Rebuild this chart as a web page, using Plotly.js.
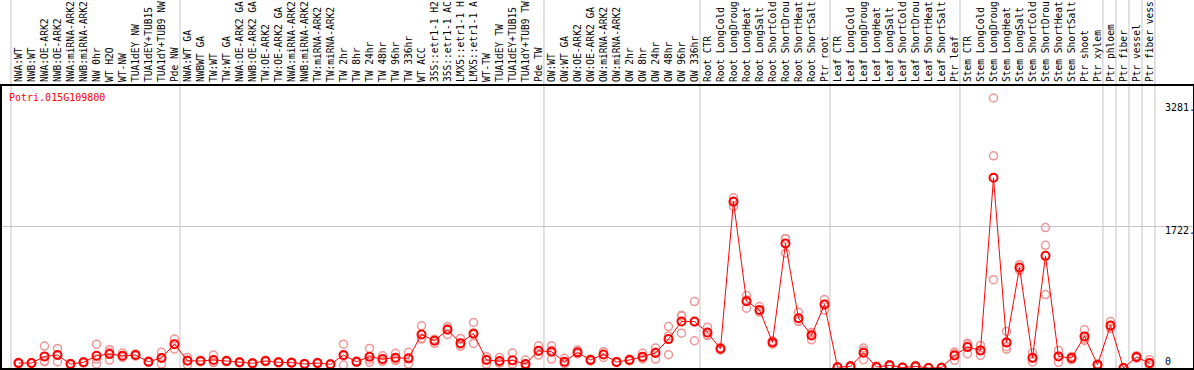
<!DOCTYPE html>
<html>
<head>
<meta charset="utf-8">
<script src="https://cdn.plot.ly/plotly-3.0.1.min.js"></script>
<style>html,body{margin:0;padding:0;background:#fff;}#chart{width:1194px;height:370px;}</style>
</head>
<body>
<div id="chart"></div>
<script>
const geneId = "Potri.015G109800";

const labels = [
"NWA:WT","NWB:WT","NWA:OE-ARK2","NWB:OE-ARK2","NWA:miRNA-ARK2","NWB:miRNA-ARK2","NW 0hr","WT H2O","WT-NW","TUA1dEY NW","TUA1dEY+TUB15","TUA1dY+TUB9 NW","Pde NW",
"NWA:WT GA","NWBWT GA","TW:WT","TW:WT GA","NWA:OE-ARK2 GA","NWB:OE-ARK2 GA","TW:OE-ARK2","TW:OE-ARK2 GA","NWA:miRNA-ARK2","NWB:miRNA-ARK2","TW:miRNA-ARK2","TW:miRNA-ARK2","TW 2hr","TW 8hr","TW 24hr","TW 48hr","TW 96hr","TW 336hr","WT ACC","35S::etr1-1 H2","35S::etr1-1 AC","LMX5::etr1-1 H","LMX5::etr1-1 A","WT-TW","TUA1dEY TW","TUA1dEY+TUB15","TUA1dY+TUB9 TW","Pde TW",
"OW:WT","OW:WT GA","OW:OE-ARK2","OW:OE-ARK2 GA","OW:miRNA-ARK2","OW:miRNA-ARK2","OW 2hr","OW 8hr","OW 24hr","OW 48hr","OW 96hr","OW 336hr",
"Root CTR","Root LongCold","Root LongDroug","Root LongHeat","Root LongSalt","Root ShortCold","Root ShortDrou","Root ShortHeat","Root ShortSalt","Ptr root",
"Leaf CTR","Leaf LongCold","Leaf LongDroug","Leaf LongHeat","Leaf LongSalt","Leaf ShortCold","Leaf ShortDrou","Leaf ShortHeat","Leaf ShortSalt","Ptr leaf",
"Stem CTR","Stem LongCold","Stem LongDroug","Stem LongHeat","Stem LongSalt","Stem ShortCold","Stem ShortDrou","Stem ShortHeat","Stem ShortSalt","Ptr shoot","Ptr xylem",
"Ptr phloem","Ptr fiber","Ptr vessel","Ptr fiber vess"
];

// mean expression per sample
const meanValues = [
60,60,141,157,48,69,149,169,149,157,76,121,290,
88,85,97,85,69,57,85,69,65,50,60,45,157,76,137,109,125,117,408,331,464,302,419,97,85,93,48,210,
198,76,190,97,165,73,97,137,182,351,565,565,
430,234,2021,811,706,311,1512,605,396,771,
10,20,185,12,32,5,20,0,4,153,
254,214,2311,311,1222,125,1363,141,121,384,40,
516,0,133,60
];

// replicate values (three per sample)
const rep1 = [
70,65,266,238,55,75,290,222,182,170,85,190,351,
129,95,157,95,75,62,95,75,72,55,68,50,290,85,238,149,178,190,512,350,504,359,553,137,129,182,97,270,
270,117,218,110,198,80,110,178,242,504,641,807,
496,250,2069,880,747,330,1573,678,430,831,
15,25,242,25,40,10,30,5,10,194,
302,274,3281,444,1255,185,1706,214,140,464,50,
565,5,150,101
];
const rep2 = [
50,55,76,76,42,60,109,97,130,145,68,48,230,
40,75,70,75,60,50,75,60,58,45,52,40,36,68,69,80,90,48,351,300,408,262,299,48,60,50,30,157,
109,55,170,85,129,65,85,110,109,161,423,331,
400,220,1964,726,680,290,1395,570,342,706,
5,10,101,5,20,0,10,0,0,93,
173,153,1073,230,1190,73,892,69,100,335,30,
480,0,120,40
];
const rep3 = [
60,60,85,157,47,72,50,190,135,156,75,125,290,
95,85,64,85,72,59,85,72,65,50,60,45,145,75,104,98,107,113,361,343,480,285,405,106,66,47,17,203,
215,56,182,96,168,74,96,123,195,388,631,557,
394,232,2030,827,691,313,1568,567,416,776,
10,25,212,6,36,5,20,0,2,172,
287,215,2579,259,1221,117,1491,140,123,353,40,
503,0,129,39
];

const groupStarts = [0,13,41,53,63,73,84,85,86,87,88];
const yTicks = [0,1722,3281];
const yTickText = ["0","1722.","3281."];

const idx = labels.map((_, i) => i);
const mono = "DejaVu Sans Mono, monospace";

const repX = [], repY = [];
[rep1, rep2, rep3].forEach(r => r.forEach((v, i) => { repX.push(i); repY.push(v); }));

const traces = [
  {
    x: repX, y: repY, type: "scatter", mode: "markers",
    marker: {symbol: "circle-open", size: 8, color: "rgb(238,150,150)", line: {width: 1.5, color: "rgb(238,150,150)"}},
    hoverinfo: "skip", showlegend: false
  },
  {
    x: idx, y: meanValues, type: "scatter", mode: "lines+markers",
    line: {color: "#ff0000", width: 1},
    marker: {symbol: "circle-open", size: 8, color: "#ff0000", line: {width: 2, color: "#ff0000"}},
    showlegend: false
  }
];

const shapes = groupStarts.map(b => ({
  type: "line", xref: "x", yref: "paper",
  x0: b - 0.58, x1: b - 0.58, y0: 0, y1: 1.31,
  line: {color: "#c4c4c4", width: 1}, layer: "below"
}));

const yShift = [7, -4, -9];
const annotations = yTicks.map((v, k) => ({
  xref: "paper", yref: "y", x: 0.9748, y: v, yshift: yShift[k],
  xanchor: "left", yanchor: "middle", showarrow: false,
  text: yTickText[k], font: {family: mono, size: 10, color: "#000"}
}));

const layout = {
  width: 1194, height: 370,
  margin: {l: 2, r: 1, t: 86, b: 2, pad: 0},
  paper_bgcolor: "#fff", plot_bgcolor: "#fff",
  showlegend: false,
  title: {
    text: geneId, xref: "container", yref: "container",
    x: 9/1194, xanchor: "left", y: 1 - 97/370, yanchor: "middle",
    font: {family: mono, size: 10, color: "#ff0000"}
  },
  xaxis: {
    type: "linear", range: [-1.269, 90.346], side: "top",
    tickmode: "array", tickvals: idx, ticktext: labels, tickangle: -90,
    tickfont: {family: mono, size: 9.6, color: "#000"},
    ticks: "", showgrid: false, zeroline: false,
    showline: true, mirror: true, linecolor: "#000", linewidth: 2
  },
  yaxis: {
    range: [0, 3427], tickmode: "array", tickvals: [yTicks[1]],
    showticklabels: false, ticks: "", showgrid: true, gridcolor: "#c4c4c4", gridwidth: 1,
    zeroline: false, showline: true, mirror: true, linecolor: "#000", linewidth: 2
  },
  shapes: shapes,
  annotations: annotations
};

Plotly.newPlot("chart", traces, layout, {displayModeBar: false, staticPlot: true});
</script>
</body>
</html>
